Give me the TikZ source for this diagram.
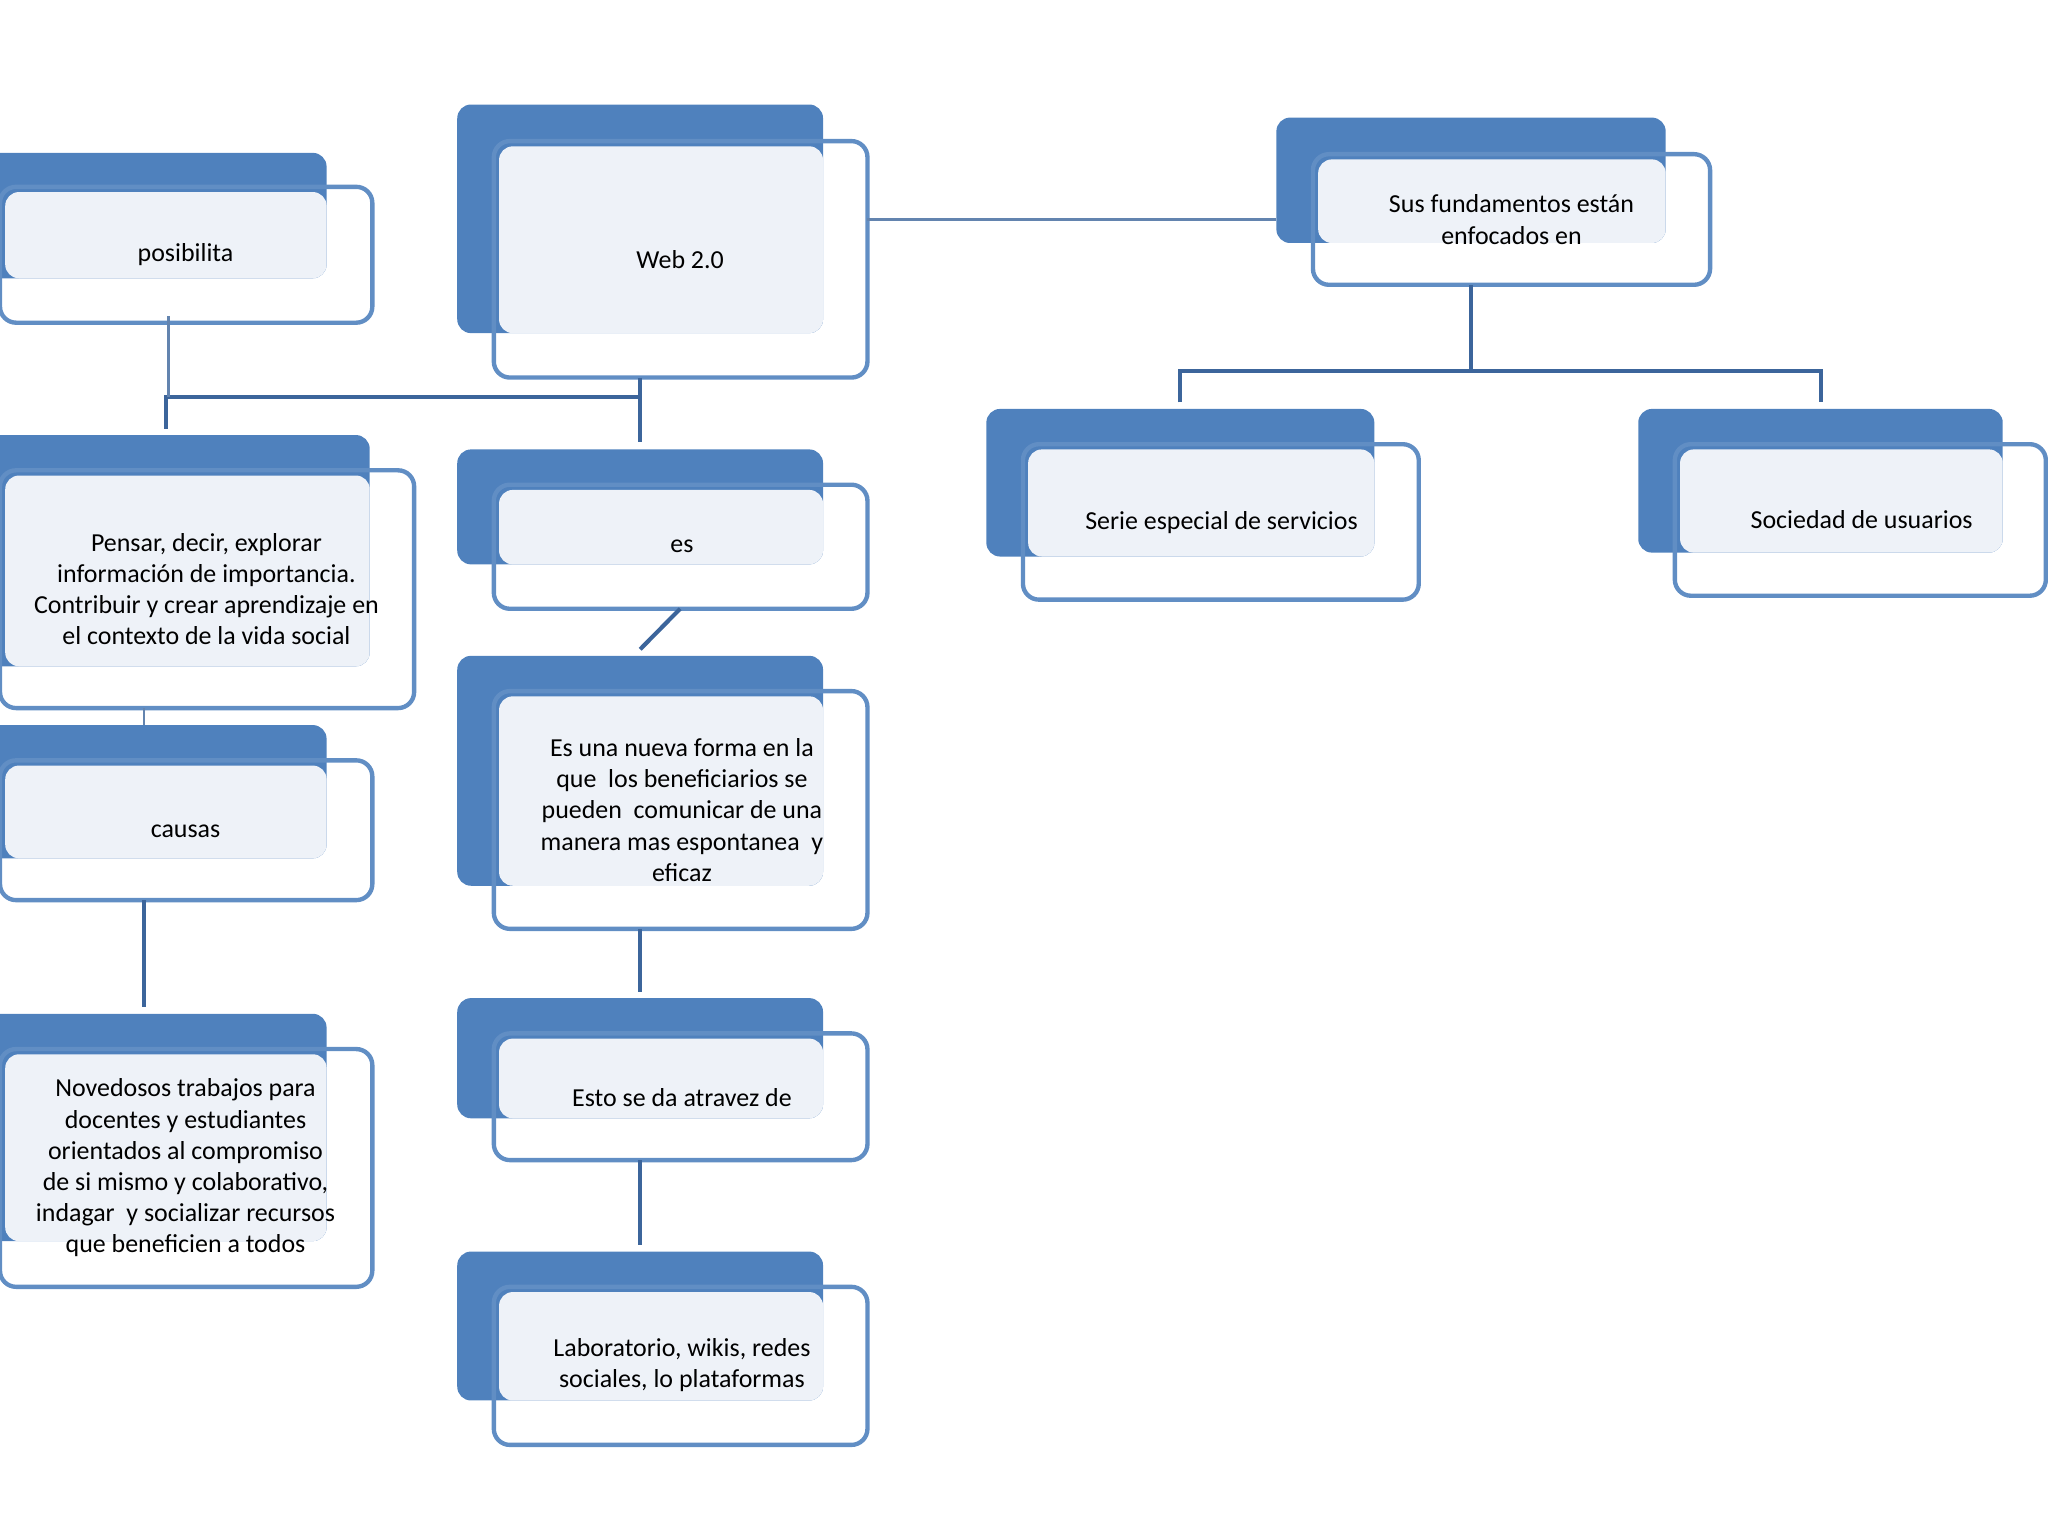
\documentclass[tikz,border=0pt]{standalone}
\usepackage{fontspec}
\setmainfont{Carlito}
\definecolor{bk}{HTML}{4F81BD}
\definecolor{lt}{HTML}{EEF2F8}
\definecolor{ln}{HTML}{3C659B}
\tikzset{
 backbox/.style={fill=bk,rounded corners=6pt},
 litebox/.style={fill=lt,rounded corners=6pt},
 frontbox/.style={draw=bk!90,line width=1.9pt,rounded corners=7pt},
 lbl/.style={align=center,font=\fontsize{11.3}{13.6}\selectfont,text=black},
 conn/.style={draw=ln,line width=1.8pt},
 thin/.style={draw=ln!80,line width=0.9pt}
}
% #1 name, #2-#5 back x1,y1,x2,y2 ; #6-#9 front ; #10 text
\newcommand{\cbox}[9]{%
 \fill[backbox] (#2*0.02,-#3*0.02) rectangle (#4*0.02,-#5*0.02);
 \fill[litebox] (#6*0.02+0.08,-#7*0.02-0.08) rectangle (#4*0.02,-#5*0.02);
 \draw[frontbox] (#6*0.02,-#7*0.02) rectangle (#8*0.02,-#9*0.02);
 \coordinate (#1-c) at ({(#6+#8)*0.01},{-(#7+#9)*0.01});
 \coordinate (#1-t) at ({(#6+#8)*0.01},-#7*0.02);
 \coordinate (#1-b) at ({(#6+#8)*0.01},-#9*0.02);
}
\begin{document}
\begin{tikzpicture}
\useasboundingbox (0,0) rectangle (31.36,-23.52);
\clip (0,0) rectangle (31.36,-23.52);
\cbox{web}{350}{80}{630}{255}{378}{108}{664}{289}
\node[lbl] (tweb) at (web-c) {Web 2.0};
\cbox{pos}{-20}{117}{250}{213}{0}{143}{285}{247}
\node[lbl] (tpos) at (142*0.02,-195*0.02) {posibilita};
\cbox{pen}{-20}{333}{283}{510}{0}{360}{317}{542}
\node[lbl] (tpen) at (158*0.02,-451*0.02) {Pensar, decir, explorar\\información de importancia.\\Contribuir y crear aprendizaje en\\el contexto de la vida social};
\cbox{cau}{-20}{555}{250}{657}{0}{582}{285}{689}
\node[lbl] (tcau) at (142*0.02,-636*0.02) {causas};
\cbox{nov}{-20}{776}{250}{950}{0}{803}{285}{985}
\node[lbl] (tnov) at (142*0.02,-894*0.02) {Novedosos trabajos para\\docentes y estudiantes\\orientados al compromiso\\de si mismo y colaborativo,\\indagar\ \ y socializar recursos\\que beneficien a todos};
\cbox{es}{350}{344}{630}{432}{378}{371}{664}{466}
\node[lbl] (tes) at (522*0.02,-418*0.02) {es};
\cbox{una}{350}{502}{630}{678}{378}{529}{664}{711}
\node[lbl] (tuna) at (522*0.02,-620*0.02) {Es una nueva forma en la\\que\ \ los beneficiarios se\\pueden\ \ comunicar de una\\manera mas espontanea\ \ y\\eficaz};
\cbox{est}{350}{764}{630}{856}{378}{791}{664}{888}
\node[lbl] (test) at (522*0.02,-840*0.02) {Esto se da atravez de};
\cbox{lab}{350}{958}{630}{1072}{378}{985}{664}{1106}
\node[lbl] (tlab) at (522*0.02,-1045*0.02) {Laboratorio, wikis, redes\\sociales, lo plataformas};
\cbox{sus}{977}{90}{1275}{186}{1005}{118}{1309}{218}
\node[lbl] (tsus) at (1157*0.02,-168*0.02) {Sus fundamentos están\\enfocados en};
\cbox{ser}{755}{313}{1052}{426}{783}{340}{1086}{459}
\node[lbl] (tser) at (935*0.02,-400*0.02) {Serie especial de servicios};
\cbox{soc}{1254}{313}{1533}{423}{1282}{340}{1566}{456}
\node[lbl] (tsoc) at (1425*0.02,-398*0.02) {Sociedad de usuarios};
% connectors
\coordinate (j1) at (490*0.02,-304*0.02);
\coordinate (j2) at (127*0.02,-304*0.02);
\draw[thin] (664*0.02,-168*0.02) -- (977*0.02,-168*0.02);
\draw[conn] (490*0.02,-289*0.02) -- (490*0.02,-338*0.02);
\draw[conn] (j1) -- (j2) -- (127*0.02,-328*0.02);
\draw[thin] (129*0.02,-242*0.02) -- (129*0.02,-304*0.02);
\draw[conn] (es-b) -- (490*0.02,-497*0.02);
\draw[thin] (110*0.02,-542*0.02) -- (110*0.02,-555*0.02);
\draw[conn] (110*0.02,-689*0.02) -- (110*0.02,-771*0.02);
\draw[conn] (490*0.02,-711*0.02) -- (490*0.02,-759*0.02);
\draw[conn] (490*0.02,-888*0.02) -- (490*0.02,-953*0.02);
\draw[conn] (1126*0.02,-218*0.02) -- (1126*0.02,-284*0.02);
\draw[conn] (903*0.02,-308*0.02) -- (903*0.02,-284*0.02) -- (1394*0.02,-284*0.02) -- (1394*0.02,-308*0.02);
\end{tikzpicture}
\end{document}
